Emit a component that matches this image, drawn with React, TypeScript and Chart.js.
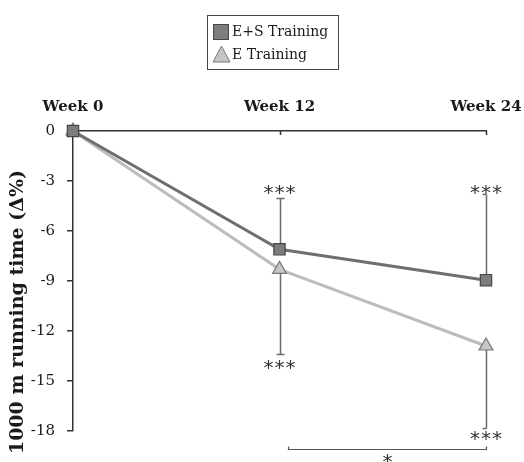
import React, { useEffect, useRef } from 'react';
import { Chart, registerables } from 'chart.js';

Chart.register(...registerables);

// ---- data ----
const weeks = [0, 12, 24];
const weekLabels = ['Week 0', 'Week 12', 'Week 24'];
const seriesNames = ['E+S Training', 'E Training'];
const esValues = [0, -7.1, -8.95];
const eValues = [0, -8.3, -12.9];
const esErrorTo = [null, -4.0, -3.8];
const eErrorTo = [null, -13.4, -17.8];
const yTicks = [0, -3, -6, -9, -12, -15, -18];
const yTitle = '1000 m running time (\u0394%)';
const sigWeeks = [12, 12, 24, 24];
const sigValues = [-3.4, -13.9, -3.4, -18.15];
const sigTexts = ['***', '***', '***', '***'];
const bracketWeeks = [12.5, 24];
const bracketValue = -19.08;
const bracketText = '*';
const bracketTextValue = -19.58;

const ES_LINE = '#6f6f6f';
const ES_FILL = '#7d7d7d';
const ES_EDGE = '#474747';
const E_LINE = '#bdbdbd';
const E_FILL = '#c6c6c6';
const E_EDGE = '#777777';
const AXIS = '#333333';
const TEXT = '#1a1a1a';
const SERIF = "'DejaVu Serif', serif";

const overlay = {
  id: 'overlay',
  beforeDatasetsDraw(chart: any) {
    const { ctx } = chart;
    const xs = chart.scales.x;
    const ys = chart.scales.y;
    ctx.save();
    ctx.strokeStyle = '#6a6a6a';
    ctx.lineWidth = 1.5;
    const drawBar = (vals: number[], errs: (number | null)[]) => {
      weeks.forEach((w, i) => {
        const e = errs[i];
        if (e === null) return;
        const x = Math.round(xs.getPixelForValue(w)) + 0.5;
        const y0 = ys.getPixelForValue(vals[i]);
        const y1 = Math.round(ys.getPixelForValue(e)) + 0.5;
        ctx.beginPath();
        ctx.moveTo(x, y0);
        ctx.lineTo(x, y1);
        if (i === weeks.length - 1) {
          ctx.moveTo(x - 4, y1);
          ctx.lineTo(x, y1);
        } else {
          ctx.moveTo(x - 4, y1);
          ctx.lineTo(x + 4, y1);
        }
        ctx.stroke();
      });
    };
    drawBar(esValues, esErrorTo);
    drawBar(eValues, eErrorTo);
    ctx.restore();
  },
  afterDraw(chart: any) {
    const { ctx, chartArea } = chart;
    const xs = chart.scales.x;
    const ys = chart.scales.y;
    ctx.save();
    // downward tick marks on top axis
    ctx.strokeStyle = AXIS;
    ctx.lineWidth = 1.5;
    weeks.slice(1).forEach((w) => {
      const x = Math.round(xs.getPixelForValue(w)) + 0.5;
      ctx.beginPath();
      ctx.moveTo(x, chartArea.top);
      ctx.lineTo(x, chartArea.top + 4);
      ctx.stroke();
    });

    // significance asterisks
    ctx.fillStyle = '#333';
    ctx.font = "20px 'DejaVu Sans', sans-serif";
    ctx.textBaseline = 'alphabetic';
    ctx.textAlign = 'left';
    (ctx as any).letterSpacing = '1px';
    sigWeeks.forEach((w, i) => {
      const t = sigTexts[i];
      const wdt = ctx.measureText(t).width - 1;
      const x = xs.getPixelForValue(w);
      const y = ys.getPixelForValue(sigValues[i]);
      ctx.fillText(t, x - wdt / 2, y + 11);
    });
    (ctx as any).letterSpacing = '0px';

    // bracket
    const bx0 = Math.round(xs.getPixelForValue(bracketWeeks[0])) + 0.5;
    const bx1 = Math.round(xs.getPixelForValue(bracketWeeks[1])) + 0.5;
    const by = Math.round(ys.getPixelForValue(bracketValue)) + 0.5;
    ctx.strokeStyle = '#555';
    ctx.lineWidth = 1.2;
    ctx.beginPath();
    ctx.moveTo(bx0, by - 3);
    ctx.lineTo(bx0, by);
    ctx.lineTo(bx1, by);
    ctx.lineTo(bx1, by - 3);
    ctx.stroke();
    const tw = ctx.measureText(bracketText).width;
    ctx.fillText(bracketText, (bx0 + bx1) / 2 - tw / 2, ys.getPixelForValue(bracketTextValue) + 11);

    // y-axis title
    ctx.save();
    ctx.translate(18, (chartArea.top + chartArea.bottom) / 2 + 31);
    ctx.rotate(-Math.PI / 2);
    ctx.font = `bold 19px ${SERIF}`;
    ctx.fillStyle = TEXT;
    ctx.textAlign = 'center';
    ctx.textBaseline = 'middle';
    ctx.fillText(yTitle, 0, 0);
    ctx.restore();

    // legend
    ctx.strokeStyle = '#444';
    ctx.lineWidth = 1;
    ctx.strokeRect(207.5, 15.5, 131, 54);
    ctx.fillStyle = ES_FILL;
    ctx.strokeStyle = ES_EDGE;
    ctx.fillRect(213, 24, 16, 16);
    ctx.strokeRect(213.5, 24.5, 15, 15);
    ctx.beginPath();
    ctx.moveTo(221.5, 46);
    ctx.lineTo(213, 62);
    ctx.lineTo(230, 62);
    ctx.closePath();
    ctx.fillStyle = E_FILL;
    ctx.fill();
    ctx.strokeStyle = E_EDGE;
    ctx.stroke();
    ctx.fillStyle = TEXT;
    ctx.font = `14px ${SERIF}`;
    ctx.textAlign = 'left';
    ctx.textBaseline = 'middle';
    ctx.fillText(seriesNames[0], 232, 32);
    ctx.fillText(seriesNames[1], 232, 55);
    ctx.restore();
  },
};

export default function App() {
  const ref = useRef<HTMLCanvasElement>(null);
  useEffect(() => {
    document.body.style.margin = '0';
    const chart = new Chart(ref.current!, {
      type: 'line',
      data: {
        datasets: [
          {
            label: seriesNames[0],
            data: weeks.map((w, i) => ({ x: w, y: esValues[i] })),
            borderColor: ES_LINE,
            borderWidth: 3,
            pointStyle: 'rect',
            pointRadius: 8,
            pointBackgroundColor: ES_FILL,
            pointBorderColor: ES_EDGE,
            pointBorderWidth: 1.2,
            tension: 0,
            clip: false as any,
          },
          {
            label: seriesNames[1],
            data: weeks.map((w, i) => ({ x: w, y: eValues[i] })),
            borderColor: E_LINE,
            borderWidth: 3,
            pointStyle: 'triangle',
            pointRadius: 8,
            pointBackgroundColor: E_FILL,
            pointBorderColor: E_EDGE,
            pointBorderWidth: 1.2,
            tension: 0,
            clip: false as any,
          },
        ],
      },
      options: {
        responsive: false,
        animation: false,
        devicePixelRatio: 1,
        layout: { padding: { left: 0, top: 0, right: 38, bottom: 31 } },
        plugins: { legend: { display: false }, tooltip: { enabled: false }, title: { display: false } },
        scales: {
          x: {
            type: 'linear',
            position: 'top',
            min: 0,
            max: 24,
            afterBuildTicks: (axis: any) => {
              axis.ticks = weeks.map((v) => ({ value: v }));
            },
            afterFit: (axis: any) => {
              axis.height = 131;
              axis.paddingLeft = 0;
              axis.paddingRight = 0;
            },
            grid: { display: false, drawTicks: false },
            border: { display: true, color: AXIS, width: 1.5 },
            ticks: {
              autoSkip: false,
              maxRotation: 0,
              padding: 15,
              color: TEXT,
              font: { family: SERIF, size: 15, weight: 'bold' },
              callback: (v: any) => weekLabels[weeks.indexOf(Number(v))] ?? '',
            },
          },
          y: {
            type: 'linear',
            min: -18,
            max: 0,
            afterBuildTicks: (axis: any) => {
              axis.ticks = yTicks.map((v) => ({ value: v }));
            },
            afterFit: (axis: any) => {
              axis.width = 73;
              axis.paddingTop = 0;
              axis.paddingBottom = 0;
            },
            grid: { display: true, drawOnChartArea: false, drawTicks: true, tickLength: 6, color: AXIS, lineWidth: 1.5 },
            border: { display: true, color: AXIS, width: 1.5 },
            ticks: {
              padding: 12,
              color: TEXT,
              font: { family: SERIF, size: 15 },
              callback: (v: any) => String(v),
            },
          },
        },
      },
      plugins: [overlay],
    });
    return () => chart.destroy();
  }, []);
  return (
    <div style={{ width: 524, height: 462 }}>
      <canvas ref={ref} width={524} height={462} />
    </div>
  );
}
